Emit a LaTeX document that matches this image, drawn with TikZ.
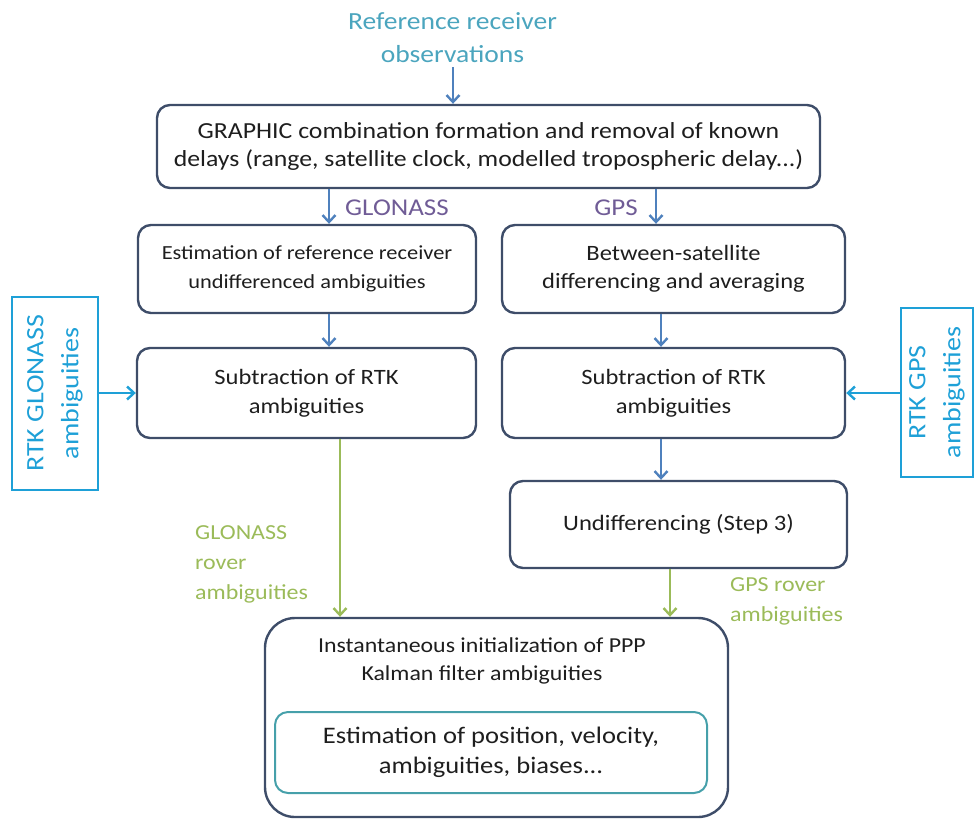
\documentclass[tikz,border=0pt]{standalone}
\usepackage{fontspec}
\setmainfont{Carlito}[FakeStretch=1.12]
\usetikzlibrary{arrows.meta,positioning}
\definecolor{boxc}{RGB}{62,77,105}
\definecolor{arrc}{RGB}{79,129,189}
\definecolor{grn}{RGB}{155,187,89}
\definecolor{purp}{RGB}{112,92,150}
\definecolor{tealt}{RGB}{75,165,190}
\definecolor{cyanb}{RGB}{30,160,215}
\definecolor{innerc}{RGB}{70,160,170}
\definecolor{txt}{RGB}{30,30,30}
\tikzset{
  procbox/.style={draw=boxc, line width=2.4pt, rounded corners=13pt, align=center,
    text=txt, inner sep=0pt, font=\fontsize{21.9}{29}\selectfont},
  rtkbox/.style={draw=cyanb, line width=2.4pt, inner sep=0pt},
  rtktext/.style={rotate=90, align=center, text=cyanb, inner sep=0pt, font=\fontsize{25}{35}\selectfont},
  arr/.style={draw=arrc, line width=2.4pt, -{Straight Barb[length=7pt,width=13pt]}},
  garr/.style={draw=grn, line width=2.4pt, -{Straight Barb[length=7pt,width=13pt]}},
  lbl/.style={inner sep=0pt, font=\fontsize{21.4}{30}\selectfont}
}
\begin{document}
\begin{tikzpicture}[x=1pt,y=-1pt]
\useasboundingbox (0,0) rectangle (979,820);

\node[inner sep=0pt, text=tealt, align=center, font=\fontsize{24.6}{33}\selectfont] (ref) at (452.5,38) {Reference receiver\\observations};

\node[procbox, minimum width=663pt, minimum height=83pt, font=\fontsize{23}{28}\selectfont] (top) at (488.5,146.5)
  {GRAPHIC combination formation and removal of known\\delays (range, satellite clock, modelled tropospheric delay...)};

\node[procbox, minimum width=338pt, minimum height=88pt, font=\fontsize{20}{29}\selectfont] (estref) at (307,269)
  {Estimation of reference receiver\\undifferenced ambiguities};
\node[procbox, minimum width=343pt, minimum height=88pt, font=\fontsize{21.9}{28}\selectfont] (between) at (673.5,269)
  {Between-satellite\\differencing and averaging};

\node[procbox, minimum width=339pt, minimum height=90pt] (subL) at (306.5,393)
  {Subtraction of RTK\\ambiguities};
\node[procbox, minimum width=343pt, minimum height=90pt] (subR) at (673.5,393)
  {Subtraction of RTK\\ambiguities};

\node[procbox, minimum width=337pt, minimum height=87pt, font=\fontsize{22}{29}\selectfont] (undiff) at (678.5,524.5)
  {Undifferencing (Step 3)};

\node[procbox, minimum width=463pt, minimum height=199pt, rounded corners=30pt] (bottom) at (496.5,717.5) {};
\node[inner sep=0pt, align=center, text=txt, font=\fontsize{21.3}{28}\selectfont] (btext) at (482,661)
  {Instantaneous initialization of PPP\\Kalman filter ambiguities};
\node[draw=innerc, line width=2pt, rounded corners=13pt, minimum width=432pt, minimum height=81pt,
  inner sep=0pt, align=center, text=txt, font=\fontsize{23.7}{30}\selectfont] (inner) at (491,752.5)
  {Estimation of position, velocity,\\ambiguities, biases...};

\node[rtkbox, minimum width=86pt, minimum height=193pt] (rtkgl) at (55,393.5) {};
\node[rtktext] (rtkgltext) at (rtkgl.center) {RTK GLONASS\\ambiguities};
\node[rtkbox, minimum width=72pt, minimum height=169pt] (rtkgps) at (937,392.5) {};
\node[rtktext] (rtkgpstext) at (rtkgps.center) {RTK GPS\\ambiguities};

\coordinate (xa) at (453,0);
\coordinate (xg) at (329,0);
\coordinate (xp) at (656,0);
\coordinate (xq) at (661,0);
\coordinate (xgl) at (340,0);
\coordinate (xgp) at (670,0);
\coordinate (yr) at (0,393);

\draw[arr] (ref.south -| xa) ++(0,4) -- (top.north -| xa);
\draw[arr] (top.south -| xg) -- (estref.north -| xg);
\draw[arr] (top.south -| xp) -- (between.north -| xp);
\draw[arr] (estref.south -| xg) -- (subL.north -| xg);
\draw[arr] (between.south -| xq) -- (subR.north -| xq);
\draw[arr] (subR.south -| xq) -- (undiff.north -| xq);
\draw[arr, draw=cyanb] (rtkgl.east |- yr) -- (subL.west |- yr);
\draw[arr, draw=cyanb] (rtkgps.west |- yr) -- (subR.east |- yr);
\draw[garr] (subL.south -| xgl) -- (bottom.north -| xgl);
\draw[garr] (undiff.south -| xgp) -- (bottom.north -| xgp);

\node[lbl, text=purp, anchor=base west, font=\fontsize{24.1}{30}\selectfont] (lglo) at (345,215) {GLONASS};
\node[lbl, text=purp, anchor=base east, font=\fontsize{24.1}{30}\selectfont] (lgps) at (638,215) {GPS};
\node[lbl, text=grn, anchor=west, align=left] (lgr) at (195,564) {GLONASS\\rover\\ambiguities};
\node[lbl, text=grn, anchor=west, align=left] (lgpr) at (730,601) {GPS rover\\ambiguities};
\end{tikzpicture}
\end{document}
